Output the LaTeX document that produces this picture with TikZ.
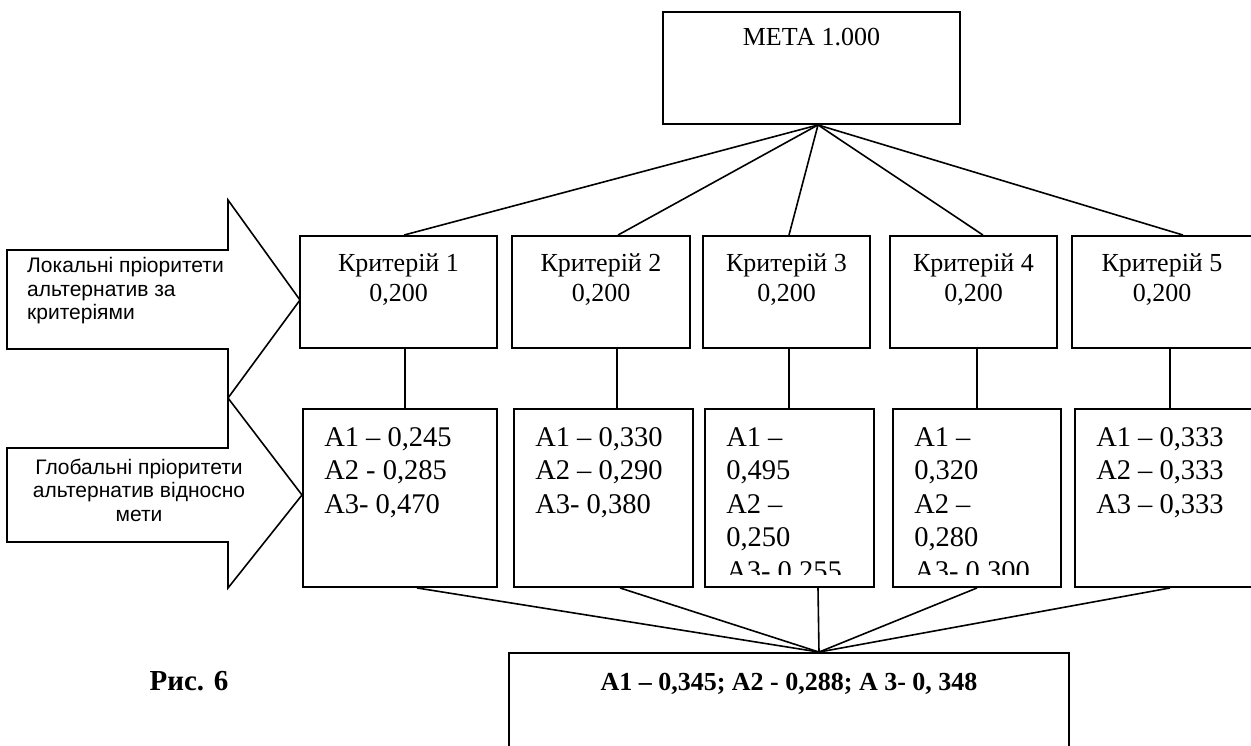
\documentclass[tikz,border=0pt]{standalone}
\usepackage{fontspec}
\setmainfont{Liberation Serif}
\setsansfont{Liberation Sans}
\usetikzlibrary{positioning}

\begin{document}
\begin{tikzpicture}[x=1pt,y=-1pt,
    box/.style={draw,line width=1.9pt,inner sep=0pt},
    link/.style={line width=1.6pt},
    boxtext/.style={font=\fontsize{26}{30}\selectfont,align=center,inner sep=0pt},
    alttext/.style={font=\fontsize{28.5}{33.5}\selectfont,align=left,inner sep=0pt},
    arrowtext/.style={font=\sffamily\fontsize{21}{23.5}\selectfont,inner sep=0pt}]
  \useasboundingbox (0,0) rectangle (1251,745);
  \clip (0,0) rectangle (1251,745);

  % goal
  \node[box,minimum width=297pt,minimum height=112pt] (meta) at (811.5,68) {};
  \node[boxtext,below=17pt of meta.north] (metat) {МЕТА 1.000};

  % criteria
  \node[box,minimum width=197pt,minimum height=112pt] (k1) at (398.5,292) {};
  \node[box,minimum width=178pt,minimum height=112pt] (k2) at (601,292) {};
  \node[box,minimum width=167pt,minimum height=112pt] (k3) at (786.5,292) {};
  \node[box,minimum width=167pt,minimum height=112pt] (k4) at (973.5,292) {};
  \node[box,minimum width=180pt,minimum height=112pt] (k5) at (1162,292) {};
  \foreach \i in {1,...,5}
    \node[boxtext,below=18pt of k\i.north] (kt\i) {Критерій \i\\0,200};

  % alternatives
  \node[box,minimum width=194pt,minimum height=178pt] (a1) at (400,498) {};
  \node[box,minimum width=179pt,minimum height=178pt] (a2) at (603.5,498) {};
  \node[box,minimum width=169pt,minimum height=178pt] (a3) at (789.5,498) {};
  \node[box,minimum width=168pt,minimum height=178pt] (a4) at (977,498) {};
  \node[box,minimum width=181pt,minimum height=178pt] (a5) at (1165.5,498) {};
  \node[alttext,below right=19pt and 22pt of a1.north west] (at1) {A1 – 0,245\\A2 - 0,285\\A3- 0,470};
  \node[alttext,below right=19pt and 22pt of a2.north west] (at2) {A1 – 0,330\\A2 – 0,290\\A3- 0,380};
  \begin{scope}
    \clip (a3.north west) rectangle ([yshift=13pt]a4.south east);
    \node[alttext,below right=19pt and 22pt of a3.north west] (at3) {A1 –\\0,495\\A2 –\\0,250\\A3- 0,255};
    \node[alttext,below right=19pt and 22pt of a4.north west] (at4) {A1 –\\0,320\\A2 –\\0,280\\A3- 0,300};
  \end{scope}
  \node[alttext,below right=19pt and 22pt of a5.north west] (at5) {A1 – 0,333\\A2 – 0,333\\A3 – 0,333};

  % result
  \node[box,minimum width=560pt,minimum height=150pt] (fin) at (789,728) {};
  \node[boxtext,font=\bfseries\fontsize{26}{30}\selectfont,below=21pt of fin.north] (fint) {A1 – 0,345; A2 - 0,288; A 3- 0, 348};

  \coordinate (mtip) at (meta.south -| 818,0);
  \coordinate (ftip) at (fin.north -| 819,0);
  \foreach \i/\x in {1/404,2/618,3/789,4/983,5/1183}
    \draw[link] (mtip) -- (k\i.north -| \x,0);
  \foreach \i/\x in {1/405,2/617,3/789,4/977,5/1170}
    \draw[link] (k\i.south -| \x,0) -- (a\i.north -| \x,0);
  \foreach \i/\x in {1/417,2/620,3/818,4/977,5/1170}
    \draw[link] (a\i.south -| \x,0) -- (ftip);

  % side arrows
  \draw[line width=1.6pt,line join=miter] (7,250) -- (228,250) -- (228,200) -- (300,300) -- (228,398)
    -- (228,349) -- (7,349) -- cycle;
  \draw[line width=1.6pt,line join=miter] (7,448) -- (228,448) -- (228,398) -- (302,495) -- (228,588)
    -- (228,542) -- (7,542) -- cycle;
  \node[arrowtext,align=left,anchor=west] (loc) at (27,291) {Локальні пріоритети\\альтернатив за\\критеріями};
  \node[arrowtext,align=center] (glob) at (139,490) {Глобальні пріоритети\\альтернатив відносно\\мети};

  \node[font=\bfseries\fontsize{29}{33}\selectfont,inner sep=0pt] (fig) at (189,681) {Рис. 6};
\end{tikzpicture}
\end{document}
